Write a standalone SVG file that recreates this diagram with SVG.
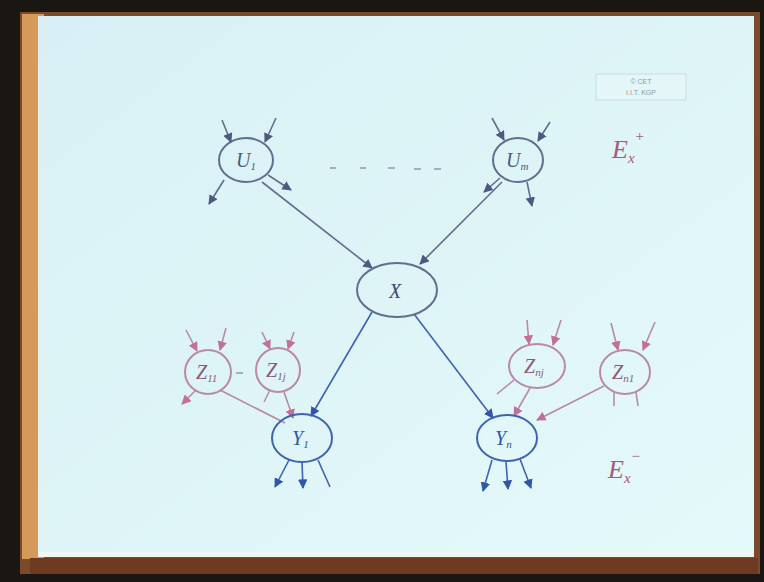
<svg xmlns="http://www.w3.org/2000/svg" width="764" height="582" viewBox="0 0 764 582">
<defs>
<style>
.node{fill:none;stroke-width:2}
.u{stroke:#5f6f90}
.y{stroke:#3f63b0}
.z{stroke:#b98aa6}
.lbl{font-family:"Liberation Serif",serif;font-style:italic;font-size:20px}
.sub{font-size:11px}
.st{fill:none;stroke-width:1.6}
.su{stroke:#5f6f90}
.sy{stroke:#3f63b0}
.sz{stroke:#b98aa6}
.e{font-family:"Liberation Serif",serif;font-style:italic;fill:#a45a78}
</style>
<marker id="au" viewBox="0 0 10 10" refX="9" refY="5" markerWidth="6" markerHeight="6" orient="auto"><path d="M0,0 L10,5 L0,10 z" fill="#4a5a80"/></marker>
<marker id="ay" viewBox="0 0 10 10" refX="9" refY="5" markerWidth="6" markerHeight="6" orient="auto"><path d="M0,0 L10,5 L0,10 z" fill="#3056a8"/></marker>
<marker id="az" viewBox="0 0 10 10" refX="9" refY="5" markerWidth="6" markerHeight="6" orient="auto"><path d="M0,0 L10,5 L0,10 z" fill="#c0709a"/></marker>
<linearGradient id="paper" x1="0" y1="0" x2="1" y2="1"><stop offset="0" stop-color="#d8f0f5"/><stop offset="1" stop-color="#e4f9fa"/></linearGradient>
</defs>
<rect x="0" y="0" width="764" height="582" fill="#1a1612"/>
<rect x="20" y="12" width="740" height="562" fill="#7a4a2a"/>
<rect x="22" y="14" width="22" height="545" fill="#d59a5a"/>
<rect x="38" y="16" width="716" height="540" fill="url(#paper)"/>
<rect x="38" y="552" width="716" height="5" fill="#f0f6f2"/>
<rect x="30" y="558" width="728" height="16" fill="#6e3a22"/>
<g id="stamp">
<rect x="596" y="74" width="90" height="26" fill="#e4f6f8" stroke="#c8dde2" stroke-width="1"/>
<text x="641" y="84" font-family="Liberation Sans,sans-serif" font-size="7" fill="#8a9aaa" text-anchor="middle">© CET</text>
<text x="641" y="95" font-family="Liberation Sans,sans-serif" font-size="7" fill="#8a9aaa" text-anchor="middle">I.I.T. KGP</text>
</g>
<g id="connectors">
<line class="st su" x1="262" y1="182" x2="372" y2="268" marker-end="url(#au)" stroke-width="1.3"/>
<line class="st su" x1="502" y1="182" x2="420" y2="264" marker-end="url(#au)" stroke-width="1.3"/>
<line class="st sy" x1="372" y1="312" x2="311" y2="416" marker-end="url(#ay)" stroke-width="2"/>
<line class="st sy" x1="414" y1="314" x2="493" y2="418" marker-end="url(#ay)" stroke-width="2"/>
<line class="st sz" x1="220" y1="390" x2="285" y2="423" stroke="#a08aa0"/>
<line class="st sz" x1="284" y1="392" x2="293" y2="418" marker-end="url(#az)"/>
<line class="st sz" x1="530" y1="388" x2="514" y2="416" marker-end="url(#az)"/>
<line class="st sz" x1="604" y1="386" x2="537" y2="420" marker-end="url(#az)"/>
<path d="M330,168 h6 M360,168 h6 M388,168 h7 M414,169 h7 M434,169 h7" stroke="#8a98b0" stroke-width="1.6" fill="none"/>
<path d="M236,373 h7" stroke="#a090a8" stroke-width="1.5" fill="none"/>
</g>
<g id="U1">
<ellipse class="node u" cx="246" cy="160" rx="27" ry="22"/>
<line class="st su" x1="222" y1="120" x2="231" y2="142" marker-end="url(#au)"/>
<line class="st su" x1="276" y1="118" x2="265" y2="142" marker-end="url(#au)"/>
<line class="st su" x1="224" y1="180" x2="209" y2="204" marker-end="url(#au)"/>
<line class="st su" x1="268" y1="175" x2="291" y2="190" marker-end="url(#au)"/>
<text class="lbl" x="236" y="167" fill="#4a5a80">U<tspan class="sub" dy="3">1</tspan></text>
</g>
<g id="Um">
<ellipse class="node u" cx="518" cy="160" rx="25" ry="22"/>
<line class="st su" x1="492" y1="118" x2="504" y2="140" marker-end="url(#au)"/>
<line class="st su" x1="550" y1="122" x2="538" y2="141" marker-end="url(#au)"/>
<line class="st su" x1="500" y1="178" x2="484" y2="192" marker-end="url(#au)"/>
<line class="st su" x1="527" y1="182" x2="532" y2="206" marker-end="url(#au)"/>
<text class="lbl" x="506" y="167" fill="#4a5a80">U<tspan class="sub" dy="3">m</tspan></text>
</g>
<g id="X">
<ellipse class="node u" cx="397" cy="290" rx="40" ry="27"/>
<text class="lbl" x="389" y="298" fill="#3a4a70">X</text>
</g>
<g id="Z11">
<ellipse class="node z" cx="208" cy="372" rx="23" ry="22"/>
<line class="st sz" x1="186" y1="330" x2="197" y2="351" marker-end="url(#az)"/>
<line class="st sz" x1="226" y1="328" x2="220" y2="350" marker-end="url(#az)"/>
<line class="st sz" x1="196" y1="390" x2="182" y2="404" marker-end="url(#az)"/>
<text class="lbl" x="196" y="379" fill="#8a5a7a" font-size="17">Z<tspan class="sub" dy="3">11</tspan></text>
</g>
<g id="Z1j">
<ellipse class="node z" cx="278" cy="370" rx="22" ry="22"/>
<line class="st sz" x1="262" y1="332" x2="270" y2="349" marker-end="url(#az)"/>
<line class="st sz" x1="294" y1="332" x2="288" y2="349" marker-end="url(#az)"/>
<line class="st sz" x1="270" y1="390" x2="264" y2="402"/>
<text class="lbl" x="266" y="377" fill="#8a5a7a" font-size="17">Z<tspan class="sub" dy="3">1j</tspan></text>
</g>
<g id="Y1">
<ellipse class="node y" cx="302" cy="438" rx="30" ry="24"/>
<line class="st sy" x1="289" y1="460" x2="275" y2="487" marker-end="url(#ay)"/>
<line class="st sy" x1="302" y1="462" x2="303" y2="488" marker-end="url(#ay)"/>
<line class="st sy" x1="318" y1="460" x2="330" y2="487"/>
<text class="lbl" x="292" y="445" fill="#3056a8" font-size="17">Y<tspan class="sub" dy="3">1</tspan></text>
</g>
<g id="Znj">
<ellipse class="node z" cx="537" cy="366" rx="28" ry="22"/>
<line class="st sz" x1="527" y1="320" x2="529" y2="344" marker-end="url(#az)"/>
<line class="st sz" x1="561" y1="320" x2="553" y2="345" marker-end="url(#az)"/>
<line class="st sz" x1="514" y1="380" x2="497" y2="394"/>
<text class="lbl" x="524" y="373" fill="#8a5a7a" font-size="17">Z<tspan class="sub" dy="3">nj</tspan></text>
</g>
<g id="Zn1">
<ellipse class="node z" cx="625" cy="372" rx="25" ry="22"/>
<line class="st sz" x1="611" y1="323" x2="618" y2="350" marker-end="url(#az)"/>
<line class="st sz" x1="655" y1="322" x2="643" y2="350" marker-end="url(#az)"/>
<line class="st sz" x1="614" y1="392" x2="614" y2="406"/>
<line class="st sz" x1="636" y1="392" x2="638" y2="406"/>
<text class="lbl" x="612" y="379" fill="#8a5a7a" font-size="17">Z<tspan class="sub" dy="3">n1</tspan></text>
</g>
<g id="Yn">
<ellipse class="node y" cx="507" cy="438" rx="30" ry="23"/>
<line class="st sy" x1="492" y1="460" x2="483" y2="491" marker-end="url(#ay)"/>
<line class="st sy" x1="506" y1="462" x2="508" y2="489" marker-end="url(#ay)"/>
<line class="st sy" x1="520" y1="459" x2="531" y2="488" marker-end="url(#ay)"/>
<text class="lbl" x="495" y="445" fill="#3056a8" font-size="17">Y<tspan class="sub" dy="3">n</tspan></text>
</g>
<g id="Ex">
<text class="e" x="612" y="158" font-size="26">E<tspan font-size="15" dy="5">x</tspan><tspan font-size="15" dy="-22">+</tspan></text>
<text class="e" x="608" y="478" font-size="26" fill="#7a6070">E<tspan font-size="15" dy="5">x</tspan><tspan font-size="15" dy="-22">−</tspan></text>
</g>
</svg>
